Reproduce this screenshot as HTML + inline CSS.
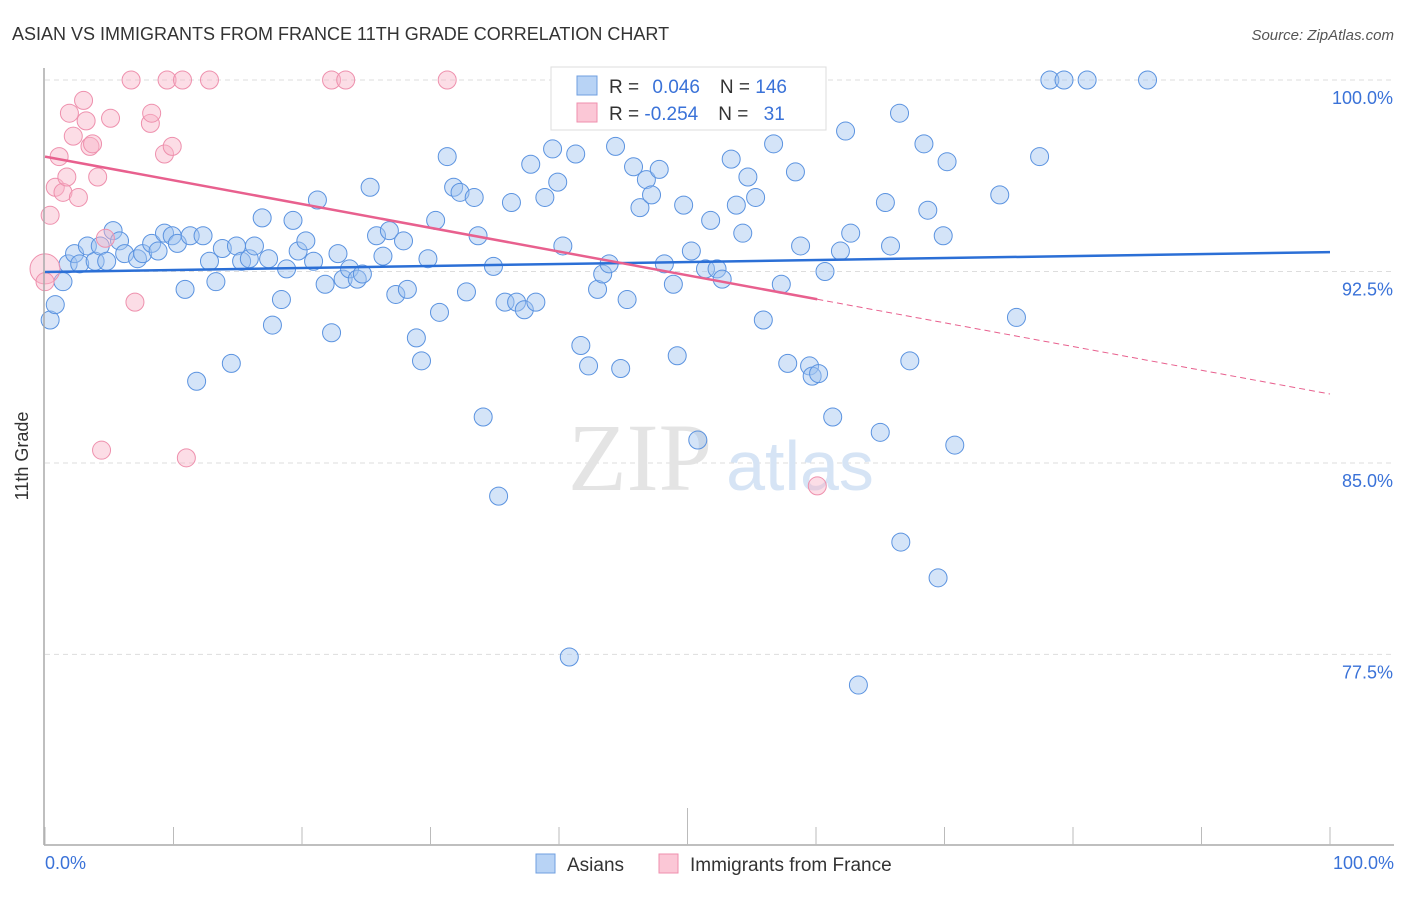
<!DOCTYPE html>
<html><head><meta charset="utf-8"><style>
body{margin:0;background:#fff;font-family:"Liberation Sans",sans-serif;}
</style></head><body>
<svg width="1406" height="892" xmlns="http://www.w3.org/2000/svg" font-family="Liberation Sans, sans-serif">
<text x="12" y="40" font-size="18" fill="#333">ASIAN VS IMMIGRANTS FROM FRANCE 11TH GRADE CORRELATION CHART</text>
<text x="1394" y="40" font-size="15" fill="#555" text-anchor="end" font-style="italic">Source: ZipAtlas.com</text>
<g id="grid"></g>
<text x="640" y="490" font-size="96" fill="#e4e4e4" font-family="Liberation Serif, serif" text-anchor="middle">ZIP</text>
<text x="800" y="490" font-size="70" fill="#d6e4f5" text-anchor="middle">atlas</text>
<g id="pts"></g>
<g id="lines"></g>
<line x1="44" y1="68" x2="44" y2="845" stroke="#aaa" stroke-width="1.5"/>
<line x1="44" y1="845" x2="1394" y2="845" stroke="#aaa" stroke-width="1.5"/>
<g id="xt"></g>
<text x="28" y="456" font-size="18" fill="#333" text-anchor="middle" transform="rotate(-90 28 456)">11th Grade</text>
<text x="45" y="869" font-size="18" fill="#3a72d8">0.0%</text>
<text x="1394" y="869" font-size="18" fill="#3a72d8" text-anchor="end">100.0%</text>
<g>
<rect x="551" y="67" width="275" height="63" fill="#fff" stroke="#ddd"/>
<rect x="577" y="76" width="20" height="19" fill="#b8d3f5" stroke="#6f9fe0"/>
<rect x="577" y="103" width="20" height="19" fill="#fbc7d6" stroke="#ef8fae"/>
<text x="609" y="93" font-size="19" fill="#333">R = <tspan fill="#3a72d8" dx="8">0.046</tspan><tspan dx="20" fill="#333">N = </tspan><tspan fill="#3a72d8">146</tspan></text>
<text x="609" y="120" font-size="19" fill="#333">R = <tspan fill="#3a72d8">-0.254</tspan><tspan dx="20" fill="#333">N = </tspan><tspan fill="#3a72d8" dx="10">31</tspan></text>
</g>
<rect x="536" y="854" width="19" height="19" fill="#b8d3f5" stroke="#6f9fe0"/>
<text x="567" y="871" font-size="19" fill="#333">Asians</text>
<rect x="659" y="854" width="19" height="19" fill="#fbc7d6" stroke="#ef8fae"/>
<text x="690" y="871" font-size="19" fill="#333">Immigrants from France</text>
</svg>
<script>
const yTicks=[100,92.5,85,77.5];
const yTickLabels=["100.0%","92.5%","85.0%","77.5%"];
const xTicks=[0,10,20,30,40,50,60,70,80,90,100];
const asiansX=[0.4,0.8,1.4,1.8,2.3,2.7,3.3,3.9,4.3,4.8,5.3,5.8,6.2,7.2,7.6,8.3,8.8,9.3,9.9,10.3,10.9,11.3,11.8,12.3,12.8,13.3,13.8,14.5,14.9,15.3,15.9,16.3,16.9,17.4,17.7,18.4,18.8,19.3,19.7,20.3,20.9,21.2,21.8,22.3,22.8,23.2,23.7,24.3,24.7,25.3,25.8,26.3,26.8,27.3,27.9,28.2,28.9,29.3,29.8,30.4,30.7,31.3,31.8,32.3,32.8,33.4,33.7,34.1,34.9,35.3,35.8,36.3,36.7,37.3,37.8,38.2,38.9,39.5,39.9,40.3,40.8,41.3,41.7,42.3,43.0,43.4,43.9,44.4,44.8,45.3,45.8,46.3,46.8,47.2,47.8,48.2,48.9,49.2,49.7,50.3,50.8,51.4,51.8,52.3,52.7,53.4,53.8,54.3,54.7,55.3,55.9,56.2,56.7,57.3,57.8,58.4,58.8,59.5,59.7,60.2,60.7,61.3,61.9,62.3,62.7,63.3,65.0,65.4,65.8,66.5,66.6,67.3,68.4,68.7,69.5,69.9,70.2,70.8,74.3,75.6,77.4,78.2,79.3,81.1,85.8];
const asiansY=[90.6,91.2,92.1,92.8,93.2,92.8,93.5,92.9,93.5,92.9,94.1,93.7,93.2,93.0,93.2,93.6,93.3,94.0,93.9,93.6,91.8,93.9,88.2,93.9,92.9,92.1,93.4,88.9,93.5,92.9,93.0,93.5,94.6,93.0,90.4,91.4,92.6,94.5,93.3,93.7,92.9,95.3,92.0,90.1,93.2,92.2,92.6,92.2,92.4,95.8,93.9,93.1,94.1,91.6,93.7,91.8,89.9,89.0,93.0,94.5,90.9,97.0,95.8,95.6,91.7,95.4,93.9,86.8,92.7,83.7,91.3,95.2,91.3,91.0,96.7,91.3,95.4,97.3,96.0,93.5,77.4,97.1,89.6,88.8,91.8,92.4,92.8,97.4,88.7,91.4,96.6,95.0,96.1,95.5,96.5,92.8,92.0,89.2,95.1,93.3,85.9,92.6,94.5,92.6,92.2,96.9,95.1,94.0,96.2,95.4,90.6,98.6,97.5,92.0,88.9,96.4,93.5,88.8,88.4,88.5,92.5,86.8,93.3,98.0,94.0,76.3,86.2,95.2,93.5,98.7,81.9,89.0,97.5,94.9,80.5,93.9,96.8,85.7,95.5,90.7,97.0,100,100,100,100];
const franceX=[0,0,0.4,0.8,1.1,1.4,1.7,1.9,2.2,2.6,3.0,3.2,3.5,3.7,4.1,4.4,4.7,5.1,6.7,7.0,8.2,8.3,9.3,9.5,9.9,10.7,11.0,12.8,22.3,23.4,31.3,60.1];
const franceY=[92.6,92.1,94.7,95.8,97.0,95.6,96.2,98.7,97.8,95.4,99.2,98.4,97.4,97.5,96.2,85.5,93.8,98.5,100,91.3,98.3,98.7,97.1,100,97.4,100,85.2,100,100,100,100,84.1];
const asiansTrend=[92.48,93.26];
const franceTrend=[97.0,87.7];
const franceSolidEnd=60.1;
const NS="http://www.w3.org/2000/svg";
const xs=v=>45+v*12.85;
const ys=v=>80+(100-v)*25.53;
function mk(t,a,p){const e=document.createElementNS(NS,t);for(const k in a)e.setAttribute(k,a[k]);p.appendChild(e);return e;}
const grid=document.getElementById('grid');
yTicks.forEach((v,i)=>{
 const l=mk('line',{x1:45,x2:1394,y1:ys(v),y2:ys(v),stroke:'#ddd','stroke-dasharray':'5,4'},grid);
 
 
 const t=mk('text',{x:1393,y:ys(v)+24,'font-size':18,fill:'#3a72d8','text-anchor':'end'},grid);
 t.textContent=yTickLabels[i];
 
 
});
const xt=document.getElementById('xt');
xTicks.forEach(v=>{
 const l=mk('line',{x1:xs(v),x2:xs(v),y1:v===50?808:827,y2:845,stroke:'#bbb'},xt);
 
 
});
const pts=document.getElementById('pts');
asiansX.forEach((x,i)=>{
 const c=mk('circle',{cx:xs(x),cy:ys(asiansY[i]),r:9,fill:'rgba(160,196,240,0.45)',stroke:'#5b93e0','stroke-width':1},pts);
 
 
});
franceX.forEach((x,i)=>{
 const c=mk('circle',{cx:xs(x),cy:ys(franceY[i]),r:i<1?15:9,fill:'rgba(248,180,200,0.45)',stroke:'#ee90ad','stroke-width':1},pts);
 
 
});
const lines=document.getElementById('lines');
const bl=mk('line',{x1:xs(0),y1:ys(asiansTrend[0]),x2:xs(100),y2:ys(asiansTrend[1]),stroke:'#2b6fd6','stroke-width':2.5},lines);


const fy=x=>franceTrend[0]+(franceTrend[1]-franceTrend[0])*x/100;
const pl=mk('line',{x1:xs(0),y1:ys(fy(0)),x2:xs(franceSolidEnd),y2:ys(fy(franceSolidEnd)),stroke:'#e8608e','stroke-width':2.5},lines);


const pd=mk('line',{x1:xs(franceSolidEnd),y1:ys(fy(franceSolidEnd)),x2:xs(100),y2:ys(fy(100)),stroke:'#e8608e','stroke-width':1,'stroke-dasharray':'6,4'},lines);


</script>
</body></html>
